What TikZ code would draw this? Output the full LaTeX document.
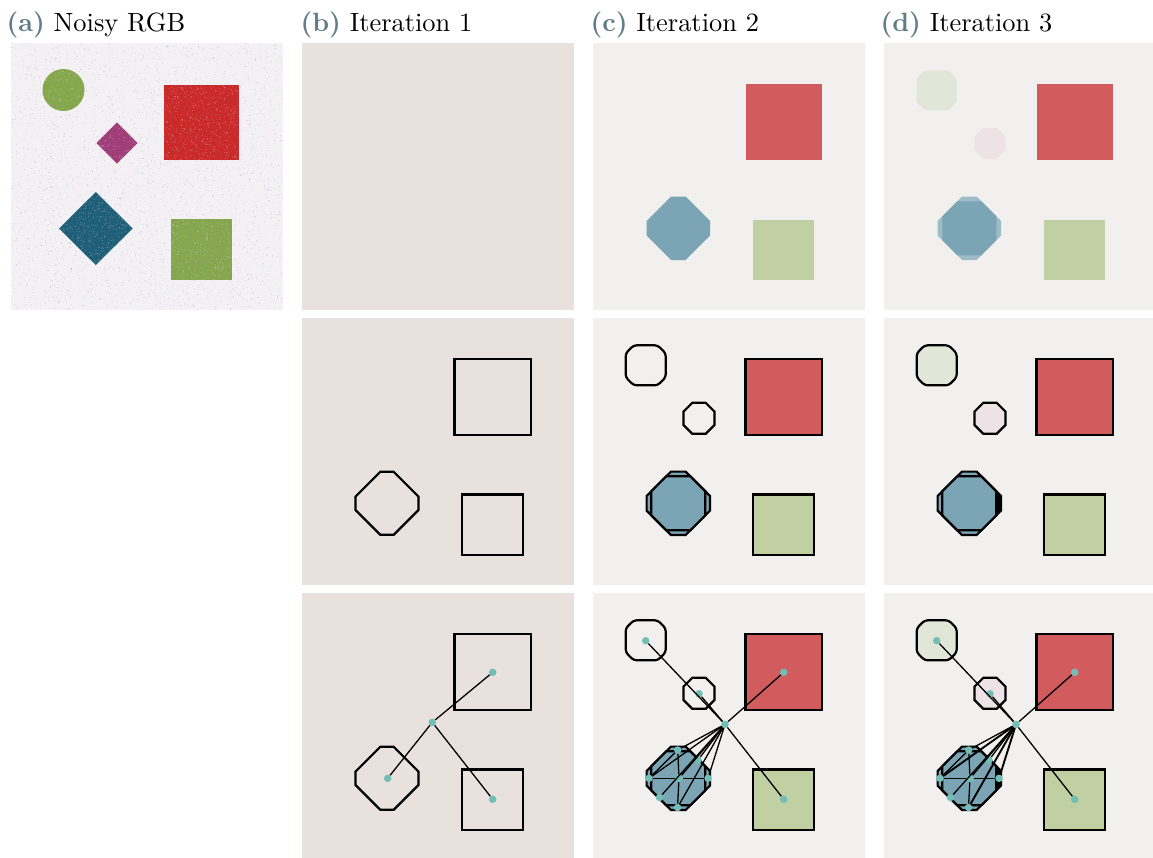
\documentclass[tikz,border=0pt]{standalone}
\definecolor{bgA}{RGB}{243,241,244}
\definecolor{bgB}{RGB}{232,225,222}
\definecolor{bgC}{RGB}{242,240,238}
\definecolor{redS}{RGB}{210,91,94}
\definecolor{greenS}{RGB}{192,208,163}
\definecolor{blueS}{RGB}{123,165,181}
\definecolor{blueL}{RGB}{158,188,199}
\definecolor{paleG}{RGB}{225,230,216}
\definecolor{paleP}{RGB}{237,227,231}
\definecolor{dotc}{RGB}{114,190,182}
\definecolor{labc}{RGB}{95,124,136}
\definecolor{nGreen}{RGB}{133,168,76}
\definecolor{nMag}{RGB}{160,62,122}
\definecolor{nRed}{RGB}{203,42,42}
\definecolor{nBlue}{RGB}{31,96,120}
\definecolor{nGreen2}{RGB}{135,166,80}
\definecolor{nz1}{RGB}{245,190,235}
\definecolor{nz2}{RGB}{195,235,245}
\definecolor{nz3}{RGB}{225,225,240}
\definecolor{nz4}{RGB}{150,140,160}
\tikzset{
  outl/.style={draw=black, line width=2.2pt, line join=miter},
  conn/.style={draw=black, line width=1.3pt},
  thickconn/.style={draw=black, line width=1.9pt},
  dot/.style={circle, fill=dotc, inner sep=0pt, minimum size=7.5pt},
  lab/.style={anchor=base west, inner sep=0pt, scale=2.64},
  roundoct/.style={rounded corners=3pt},
}
% octagon: centre (#1,#2), half extent #3, diamond radius #4
\newcommand{\octp}[4]{(#1+#3,#2+#4-#3) -- (#1+#4-#3,#2+#3) -- (#1-#4+#3,#2+#3) -- (#1-#3,#2+#4-#3) -- (#1-#3,#2-#4+#3) -- (#1-#4+#3,#2-#3) -- (#1+#4-#3,#2-#3) -- (#1+#3,#2-#4+#3) -- cycle}
\newcommand{\shapesB}{%
  \draw[outl] (152.5,41) rectangle (229,117);
  \draw[outl] (160,176.5) rectangle (221,237);
  \draw[outl] \octp{85}{185.3}{31.5}{38.2};
}
\newcommand{\shapesCD}[2]{%
  \draw[outl, roundoct, fill=#1] \octp{52.7}{47.3}{20}{32};
  \draw[outl, fill=#2] \octp{106}{100.3}{15.5}{22.2};
  \draw[outl, fill=redS] (152.5,41) rectangle (229,117);
  \draw[outl, fill=greenS] (160,176.5) rectangle (221,237);
  \draw[outl, fill=blueS] \octp{85.3}{185.3}{31.7}{39};
  \draw[outl, fill=blueS] \octp{85.3}{185.3}{27}{39};
}
\newcommand{\sliverD}{%
  \fill[black] (112.3,173.3) -- (117,178) -- (117,192.6) -- (112.3,197.3) -- cycle;
}
\newcommand{\graphCD}[2]{%
  \node[dot] (#1h) at (132,131.3) {};
  \node[dot] (#1r) at (190.7,79.3) {};
  \node[dot] (#1g) at (190.7,206.3) {};
  \node[dot] (#1c) at (52.7,47.7) {};
  \node[dot] (#1s) at (106,100.7) {};
  \node[dot] (#1T) at (84.7,157) {};
  \node[dot] (#1U) at (105,167) {};
  \node[dot] (#1L) at (56,185.3) {};
  \node[dot] (#1C) at (86,185.3) {};
  \node[dot] (#1R) at (115,185.3) {};
  \node[dot] (#1W) at (66.5,204.5) {};
  \node[dot] (#1B) at (84.5,214.5) {};
  \draw[conn] (#1h) -- (#1r);
  \draw[conn] (#1h) -- (#1g);
  \draw[conn] (#1h) -- (#1c);
  \draw[conn] (#1h) -- (#1s);
  \foreach \k in {T,U,C,W} {\draw[conn] (#1h) -- (#1\k);}
  \foreach \k in {L,R,B} {\draw[#2] (#1h) -- (#1\k);}
  \draw[conn] (#1L) -- (#1C);
  \draw[conn] (#1C) -- (#1R);
  \draw[conn] (#1T) -- (#1C);
  \draw[conn] (#1C) -- (#1B);
  \draw[conn] (#1L) -- (#1T);
}
\begin{document}
\begin{tikzpicture}[x=1pt, y=-1pt]
\useasboundingbox (0,0) rectangle (1153,857);
\fill[white] (0,0) rectangle (1153,857);
% headers
\node[lab] (ha) at (6,31) {\textcolor{labc}{\textbf{(a)}} Noisy RGB};
\node[lab] (hb) at (300,31) {\textcolor{labc}{\textbf{(b)}} Iteration 1};
\node[lab] (hc) at (590,31) {\textcolor{labc}{\textbf{(c)}} Iteration 2};
\node[lab] (hd) at (880,31) {\textcolor{labc}{\textbf{(d)}} Iteration 3};
% (a) noisy image
\begin{scope}[shift={(11,43)}]
  \fill[bgA] (0,0) rectangle (272,267);
  \fill[nGreen] (52.5,47) circle (21);
  \fill[nMag] (106,79.3) -- (126.5,100) -- (106,120.7) -- (85.5,100) -- cycle;
  \fill[nRed] (152.7,41.7) rectangle (228.3,117);
  \fill[nBlue] (84.8,149) -- (121.7,185.5) -- (84.8,222) -- (48,185.5) -- cycle;
  \fill[nGreen2] (160,176.3) rectangle (220.7,237);
  \pgfmathsetseed{7}
  \foreach \i in {1,...,7000} {
    \pgfmathsetmacro{\rx}{rnd*271}
    \pgfmathsetmacro{\ry}{rnd*266}
    \pgfmathrandominteger{\cc}{1}{4}
    \fill[nz\cc, opacity=0.22] (\rx,\ry) rectangle ++(1.1,1.1);
  }
\end{scope}
% column b
\begin{scope}[shift={(302,43)}]
  \fill[bgB] (0,0) rectangle (272,267);
\end{scope}
\begin{scope}[shift={(302,318)}]
  \fill[bgB] (0,0) rectangle (272,267);
  \shapesB
\end{scope}
\begin{scope}[shift={(302,593)}]
  \fill[bgB] (0,0) rectangle (272,267);
  \shapesB
  \node[dot] (bh) at (130.3,129.3) {};
  \node[dot] (br) at (190.7,79.3) {};
  \node[dot] (bg) at (190.7,206.3) {};
  \node[dot] (bo) at (85.7,185.3) {};
  \draw[conn] (bh) -- (br);
  \draw[conn] (bh) -- (bg);
  \draw[conn] (bh) -- (bo);
\end{scope}
% column c
\begin{scope}[shift={(593,43)}]
  \fill[bgC] (0,0) rectangle (272,267);
  \fill[redS] (152.5,41) rectangle (229,117);
  \fill[greenS] (160,176.5) rectangle (221,237);
  \fill[blueS] \octp{85.3}{185.3}{31.7}{39};
\end{scope}
\begin{scope}[shift={(593,318)}]
  \fill[bgC] (0,0) rectangle (272,267);
  \shapesCD{none}{none}
\end{scope}
\begin{scope}[shift={(593,593)}]
  \fill[bgC] (0,0) rectangle (272,267);
  \shapesCD{none}{none}
  \graphCD{c}{conn}
\end{scope}
% column d
\begin{scope}[shift={(884,43)}]
  \fill[bgC] (0,0) rectangle (272,267);
  \fill[paleG, roundoct] \octp{52.7}{47.3}{20}{32};
  \fill[paleP] \octp{106}{100.3}{15.5}{22.2};
  \fill[redS] (152.5,41) rectangle (229,117);
  \fill[greenS] (160,176.5) rectangle (221,237);
  \fill[blueL] \octp{85.3}{185.3}{31.7}{39};
  \fill[blueS] \octp{85.3}{185.3}{27}{39};
\end{scope}
\begin{scope}[shift={(884,318)}]
  \fill[bgC] (0,0) rectangle (272,267);
  \shapesCD{paleG}{paleP}
  \sliverD
\end{scope}
\begin{scope}[shift={(884,593)}]
  \fill[bgC] (0,0) rectangle (272,267);
  \shapesCD{paleG}{paleP}
  \sliverD
  \graphCD{d}{thickconn}
\end{scope}
\end{tikzpicture}
\end{document}
